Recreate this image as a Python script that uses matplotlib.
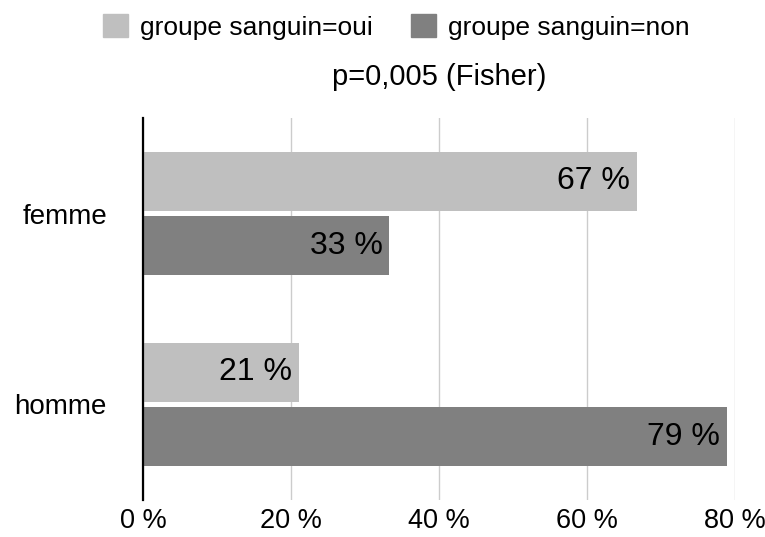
import matplotlib
matplotlib.use("Agg")
import matplotlib.pyplot as plt
import numpy as np
from matplotlib.patches import Patch

plt.rcParams['font.family'] = ['Liberation Sans', 'DejaVu Sans']

# données
categories = ['femme', 'homme']
series_names = ['groupe sanguin=oui', 'groupe sanguin=non']
oui = [66.7, 21.1]
non = [33.3, 78.9]
bar_labels_oui = ['67 %', '21 %']
bar_labels_non = ['33 %', '79 %']
xticks = [0, 20, 40, 60, 80]
xtick_labels = ['0 %', '20 %', '40 %', '60 %', '80 %']
subtitle = 'p=0,005 (Fisher)'

col_oui = '#bfbfbf'
col_non = '#808080'

fig = plt.figure(figsize=(7.65, 5.37), dpi=100)
ax = fig.add_axes([143/765, 37/537, 592/765, 382/537])

y = np.arange(len(categories))
h = 0.31
off = 0.168
ax.barh(y - off, oui, height=h, color=col_oui, zorder=2)
ax.barh(y + off, non, height=h, color=col_non, zorder=2)

# étiquettes dans les barres
for yi, v, lab in zip(y, oui, bar_labels_oui):
    ax.annotate(lab, xy=(v, yi - off), xytext=(-5, 0), textcoords='offset points',
                ha='right', va='center', fontsize=23, color='black')
for yi, v, lab in zip(y, non, bar_labels_non):
    ax.annotate(lab, xy=(v, yi + off), xytext=(-5, 0), textcoords='offset points',
                ha='right', va='center', fontsize=23, color='black')

ax.set_xlim(0, 80)
ax.set_ylim(1.5, -0.5)
ax.set_xticks(xticks)
ax.set_xticklabels(xtick_labels, fontsize=19.5)
ax.set_yticks(y)
ax.set_yticklabels(categories, fontsize=20)
ax.tick_params(axis='both', length=0)
ax.tick_params(axis='x', pad=6)
ax.tick_params(axis='y', pad=26)
for t in ax.get_yticklabels():
    t.set_y(t.get_position()[1])

ax.grid(axis='x', color='#cccccc', linewidth=1, zorder=0)
for s in ['top', 'right', 'bottom']:
    ax.spines[s].set_visible(False)
ax.spines['left'].set_color('black')
ax.spines['left'].set_linewidth(1.6)
ax.spines['left'].set_zorder(3)

handles = [Patch(color=col_oui), Patch(color=col_non)]
fig.legend(handles, series_names, loc='center', bbox_to_anchor=(396/765, 1 - 27/537),
           ncol=2, frameon=False, fontsize=19, handlelength=0.95, handleheight=0.95,
           handletextpad=0.45, columnspacing=1.45)

fig.text(439/765, 1 - 77/537, subtitle, ha='center', va='center', fontsize=21)

fig.savefig('out.png', dpi=100)
